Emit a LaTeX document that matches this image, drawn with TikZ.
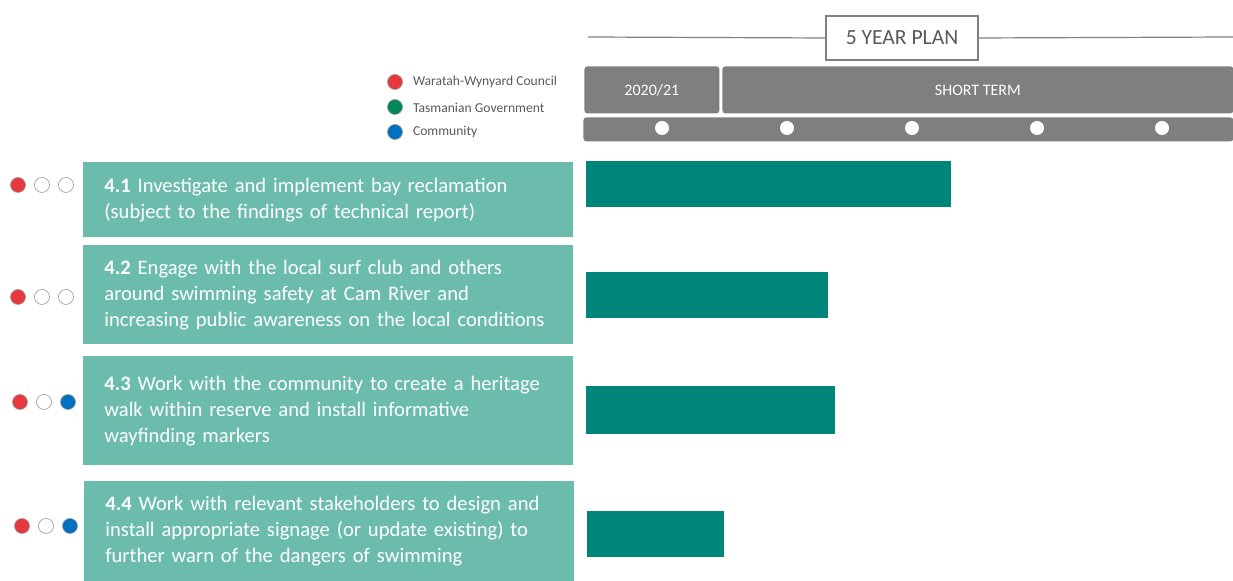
\documentclass[tikz,border=0pt]{standalone}
\usepackage{fontspec}
\setmainfont{Carlito}
\definecolor{taskteal}{HTML}{6CBCAE}
\definecolor{barteal}{HTML}{00857A}
\definecolor{headgray}{HTML}{7F7F7F}
\definecolor{councilred}{HTML}{E8383D}
\definecolor{govgreen}{HTML}{00875A}
\definecolor{commblue}{HTML}{0070C0}
\definecolor{textgray}{HTML}{595959}

\begin{document}
\begin{tikzpicture}[x=0.5pt,y=-0.5pt,
  taskbox/.style={fill=taskteal, text=white, anchor=north west, inner xsep=10.5pt,
    text width=224pt, align=left, font=\fontsize{10.3}{13}\selectfont},
  bar/.style={fill=barteal},
  headbox/.style={fill=headgray, rounded corners=1.5pt, text=white, anchor=north west,
    font=\fontsize{8}{9}\selectfont},
  dot/.style={circle, inner sep=0pt, minimum size=7.5pt, draw=gray!80, line width=0.3pt},
  legtext/.style={text=textgray, anchor=west, font=\fontsize{6.8}{8}\selectfont}]
\useasboundingbox (0,0) rectangle (1233,581);

% plan header
\coordinate (lineL) at (588,37);
\coordinate (lineR) at (1233,37);
\node[draw=gray, line width=0.7pt, fill=white, minimum width=76pt, minimum height=22pt,
  text=textgray, font=\fontsize{10.8}{12}\selectfont] (plan) at (902,38) {5 YEAR PLAN};
\draw[gray, line width=0.6pt] (lineL) -- (plan.west);
\draw[gray, line width=0.6pt] (plan.east) -- (lineR);

\node[headbox, minimum width=67.5pt, minimum height=23.5pt] (year) at (584,66) {2020/21};
\node[headbox, minimum width=255.5pt, minimum height=23.5pt] (short) at (722,66) {SHORT TERM};
\node[headbox, minimum width=325pt, minimum height=12pt] (ticks) at (583,117) {};
\foreach \x [count=\i] in {662,787,912,1037,1162}
  \node[circle, fill=white, inner sep=0pt, minimum size=7pt] (tick\i) at (\x,128) {};

% legend
\node[dot, fill=councilred] (legR) at (395,82) {};
\node[dot, fill=govgreen] (legG) at (395,107) {};
\node[dot, fill=commblue] (legB) at (395,132) {};
\node[legtext] at (406,82) (legRt) {Waratah-Wynyard Council};
\node[legtext] at (406,108) (legGt) {Tasmanian Government};
\node[legtext] at (406,132) (legBt) {Community};

% actions
\node[taskbox, minimum width=245pt, minimum height=37.5pt] (task1) at (83,162)
  {\textbf{4.1} Investigate and implement bay reclamation\\(subject to the findings of technical report)};
\node[taskbox, minimum width=245pt, minimum height=49.5pt] (task2) at (83,245)
  {\textbf{4.2} Engage with the local surf club and others\\around swimming safety at Cam River and\\increasing public awareness on the local conditions};
\node[taskbox, minimum width=245pt, minimum height=54.5pt] (task3) at (83,356)
  {\textbf{4.3} Work with the community to create a heritage\\walk within reserve and install informative\\wayfinding markers};
\node[taskbox, minimum width=245pt, minimum height=50pt] (task4) at (84,481)
  {\textbf{4.4} Work with relevant stakeholders to design and\\install appropriate signage (or update existing) to\\further warn of the dangers of swimming};

% responsibility dots
\node[dot, fill=councilred] (d1a) at (18,185) {};
\node[dot, fill=white] (d1b) at (42,185) {};
\node[dot, fill=white] (d1c) at (66,185) {};
\node[dot, fill=councilred] (d2a) at (18,297) {};
\node[dot, fill=white] (d2b) at (42,297) {};
\node[dot, fill=white] (d2c) at (66,297) {};
\node[dot, fill=councilred] (d3a) at (20,402) {};
\node[dot, fill=white] (d3b) at (44,402) {};
\node[dot, fill=commblue] (d3c) at (68,402) {};
\node[dot, fill=councilred] (d4a) at (22,526) {};
\node[dot, fill=white] (d4b) at (46,526) {};
\node[dot, fill=commblue] (d4c) at (70,526) {};

% timeline bars
\fill[bar] (586,161) rectangle (951,207);
\fill[bar] (586,272) rectangle (828,318);
\fill[bar] (586,386) rectangle (835,434);
\fill[bar] (587,511) rectangle (724,557);
\end{tikzpicture}
\end{document}
